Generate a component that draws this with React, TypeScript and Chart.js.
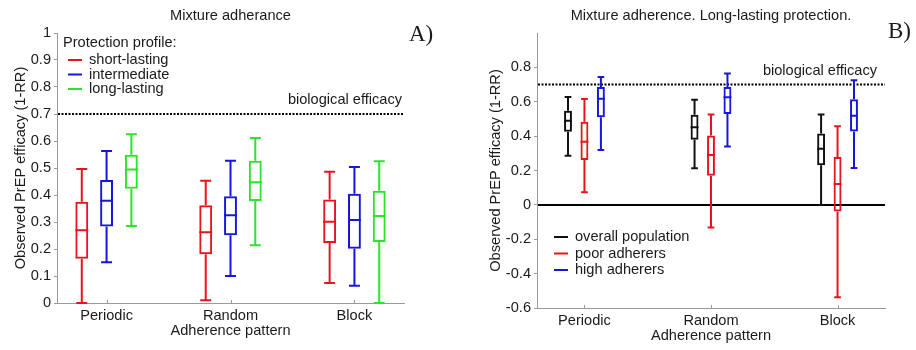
import React, { useEffect, useRef } from "react";
import { Chart, registerables } from "chart.js";

Chart.register(...registerables);

// ---------- data ----------
const categories = ["Periodic", "Random", "Block"];

// Panel A: mixture adherence, by protection profile
// stats per category: [lower whisker, q1, median, q3, upper whisker]
const aLabels = ["short-lasting", "intermediate", "long-lasting"];
const aColors = ["#e8141c", "#1616dc", "#2be42b"];
const aShortLasting = [
  [0.0, 0.164, 0.269, 0.375, 0.496],
  [0.01, 0.181, 0.262, 0.362, 0.453],
  [0.074, 0.222, 0.301, 0.383, 0.486],
];
const aIntermediate = [
  [0.151, 0.283, 0.379, 0.456, 0.563],
  [0.1, 0.251, 0.325, 0.395, 0.527],
  [0.064, 0.201, 0.307, 0.405, 0.504],
];
const aLongLasting = [
  [0.285, 0.423, 0.494, 0.549, 0.625],
  [0.214, 0.378, 0.447, 0.527, 0.611],
  [0.0, 0.226, 0.322, 0.416, 0.525],
];

// Panel B: mixture adherence, long-lasting protection, by adherer group
const bLabels = ["overall population", "poor adherers", "high adherers"];
const bColors = ["#111111", "#e8141c", "#1616dc"];
const bOverall = [
  [0.286, 0.425, 0.489, 0.547, 0.628],
  [0.213, 0.379, 0.452, 0.524, 0.611],
  [0.0, 0.23, 0.327, 0.415, 0.526],
];
const bPoor = [
  [0.073, 0.261, 0.367, 0.483, 0.616],
  [-0.131, 0.17, 0.29, 0.404, 0.526],
  [-0.537, -0.039, 0.122, 0.278, 0.458],
];
const bHigh = [
  [0.319, 0.51, 0.618, 0.686, 0.744],
  [0.34, 0.529, 0.626, 0.686, 0.765],
  [0.215, 0.427, 0.518, 0.615, 0.725],
];

const biologicalEfficacy = 0.7;
const aYTicks = [0, 0.1, 0.2, 0.3, 0.4, 0.5, 0.6, 0.7, 0.8, 0.9, 1];
const bYTicks = [-0.6, -0.4, -0.2, 0, 0.2, 0.4, 0.6, 0.8];

// ---------- helpers ----------
const SANS = '"Liberation Sans", Arial, Helvetica, sans-serif';
const SERIF = '"Liberation Serif", "Times New Roman", serif';
const TEXT = "#1a1a1a";
const AXIS = "#9a9a9a";
const FS = 14.6;

const fmt = (v: number) => {
  const r = Math.round(v * 10) / 10;
  return r === 0 ? "0" : String(r);
};

const boxPlugin = {
  id: "boxWhiskers",
  afterDatasetsDraw(chart: any) {
    const { ctx } = chart;
    const y = chart.scales.y;
    chart.data.datasets.forEach((ds: any, i: number) => {
      const meta = chart.getDatasetMeta(i);
      meta.data.forEach((bar: any, j: number) => {
        const s = ds.stats[j];
        const x = bar.x;
        const w = bar.width;
        const cap = w * 0.85;
        const half = w / 2;
        ctx.save();
        ctx.strokeStyle = ds.borderColor;
        ctx.lineWidth = 2;
        ctx.beginPath();
        ctx.moveTo(x, y.getPixelForValue(s[3]));
        ctx.lineTo(x, y.getPixelForValue(s[4]));
        ctx.moveTo(x - cap / 2, y.getPixelForValue(s[4]));
        ctx.lineTo(x + cap / 2, y.getPixelForValue(s[4]));
        ctx.moveTo(x, y.getPixelForValue(s[1]));
        ctx.lineTo(x, y.getPixelForValue(s[0]));
        ctx.moveTo(x - cap / 2, y.getPixelForValue(s[0]));
        ctx.lineTo(x + cap / 2, y.getPixelForValue(s[0]));
        ctx.moveTo(x - half, y.getPixelForValue(s[2]));
        ctx.lineTo(x + half, y.getPixelForValue(s[2]));
        ctx.stroke();
        ctx.restore();
      });
    });
  },
};

const refLinesPlugin = {
  id: "refLines",
  beforeDatasetsDraw(chart: any) {
    const { ctx, chartArea } = chart;
    const y = chart.scales.y;
    const x = chart.scales.x;
    const o = chart.options.plugins.refLines;
    ctx.save();
    // small inward tick marks on the category axis
    ctx.strokeStyle = AXIS;
    ctx.lineWidth = 1;
    ctx.beginPath();
    categories.forEach((_, i) => {
      const px = Math.round(x.getPixelForValue(i + 1)) + 0.5;
      ctx.moveTo(px, chartArea.bottom);
      ctx.lineTo(px, chartArea.bottom - 3);
    });
    ctx.stroke();
    // dotted biological efficacy line
    const yb = y.getPixelForValue(o.efficacy);
    ctx.strokeStyle = "#000";
    ctx.lineWidth = 2;
    ctx.setLineDash([2, 1.5]);
    ctx.beginPath();
    ctx.moveTo(chartArea.left + 1, yb);
    ctx.lineTo(chartArea.right, yb);
    ctx.stroke();
    ctx.setLineDash([]);
    if (o.zeroLine) {
      const y0 = y.getPixelForValue(0);
      ctx.beginPath();
      ctx.moveTo(chartArea.left + 1, y0);
      ctx.lineTo(chartArea.right, y0);
      ctx.stroke();
    }
    ctx.fillStyle = TEXT;
    ctx.font = `${FS}px ${SANS}`;
    ctx.textAlign = "right";
    ctx.textBaseline = "middle";
    ctx.fillText("biological efficacy", chartArea.right - o.labelInset, yb - 14);
    ctx.restore();
  },
};

const decorPlugin = {
  id: "decor",
  afterDraw(chart: any) {
    const { ctx, chartArea } = chart;
    const o = chart.options.plugins.decor;
    ctx.save();
    ctx.fillStyle = TEXT;
    ctx.font = `${FS}px ${SANS}`;
    ctx.textAlign = "center";
    ctx.textBaseline = "middle";
    ctx.fillText(o.title, (chartArea.left + chartArea.right) / 2, 16);
    ctx.font = `23px ${SERIF}`;
    ctx.textAlign = "left";
    ctx.textBaseline = "alphabetic";
    ctx.fillText(o.panel, o.panelX, o.panelY);
    // legend
    ctx.font = `${FS}px ${SANS}`;
    ctx.textBaseline = "middle";
    if (o.legendTitle) ctx.fillText(o.legendTitle, o.legX - 5, o.legY0 - 17);
    chart.data.datasets.forEach((ds: any, i: number) => {
      const yy = o.legY0 + i * o.legStep;
      ctx.strokeStyle = ds.borderColor;
      ctx.lineWidth = 2;
      ctx.beginPath();
      ctx.moveTo(o.legX, yy);
      ctx.lineTo(o.legX + 14, yy);
      ctx.stroke();
      ctx.fillStyle = TEXT;
      ctx.fillText(ds.label, o.legX + 21, yy);
    });
    ctx.restore();
  },
};

function makeDatasets(labels: string[], colors: string[], series: number[][][]) {
  return series.map((stats, k) => ({
    label: labels[k],
    stats,
    data: categories.map((_, i) => ({ x: i + 1, y: [stats[i][1], stats[i][3]] })),
    borderColor: colors[k],
    backgroundColor: "rgba(0,0,0,0)",
    borderWidth: 2,
    borderSkipped: false,
  }));
}

function makeConfig(p: any) {
  return {
    type: "bar",
    data: { datasets: makeDatasets(p.labels, p.colors, p.series) },
    plugins: [refLinesPlugin, boxPlugin, decorPlugin],
    options: {
      responsive: false,
      animation: false,
      devicePixelRatio: 1,
      layout: { padding: { top: 33, right: p.rightPad, left: 0, bottom: 0 } },
      datasets: {
        bar: { categoryPercentage: p.catPct, barPercentage: p.barPct, grouped: true },
      },
      plugins: {
        legend: { display: false },
        tooltip: { enabled: false },
        refLines: { efficacy: biologicalEfficacy, zeroLine: p.zeroLine, labelInset: p.labelInset },
        decor: p.decor,
      },
      scales: {
        x: {
          type: "linear",
          offset: false,
          min: p.xMin,
          max: p.xMax,
          afterBuildTicks: (s: any) => {
            s.ticks = categories.map((_, i) => ({ value: i + 1 }));
          },
          afterFit: (s: any) => {
            s.height = p.xHeight;
          },
          grid: { display: false, drawTicks: false, offset: false },
          border: { display: true, color: AXIS, width: 1 },
          ticks: {
            padding: 4,
            color: TEXT,
            font: { family: SANS, size: FS },
            maxRotation: 0,
            autoSkip: false,
            callback: (v: number) => categories[Math.round(v) - 1],
          },
          title: {
            display: true,
            text: "Adherence pattern",
            color: TEXT,
            font: { family: SANS, size: FS },
            padding: { top: 0, bottom: p.xTitlePad },
          },
        },
        y: {
          type: "linear",
          min: p.yMin,
          max: p.yMax,
          afterBuildTicks: (s: any) => {
            s.ticks = p.yTicks.map((v: number) => ({ value: v }));
          },
          afterFit: (s: any) => {
            s.width = p.yWidth;
          },
          grid: { display: true, drawOnChartArea: false, drawTicks: true, tickLength: 3, color: AXIS },
          border: { display: true, color: AXIS, width: 1 },
          ticks: {
            padding: 3,
            color: TEXT,
            font: { family: SANS, size: FS },
            autoSkip: false,
            callback: (v: number) => fmt(v),
          },
          title: {
            display: true,
            text: "Observed PrEP efficacy (1-RR)",
            color: TEXT,
            font: { family: SANS, size: FS },
            padding: { top: p.yTitlePad, bottom: 0 },
          },
        },
      },
    },
  };
}

const panelA = {
  labels: aLabels,
  colors: aColors,
  series: [aShortLasting, aIntermediate, aLongLasting],
  rightPad: 54,
  catPct: 0.6,
  barPct: 0.52,
  zeroLine: false,
  labelInset: 2,
  xMin: 0.6,
  xMax: 3.4,
  xHeight: 47,
  xTitlePad: 10,
  yMin: 0,
  yMax: 1,
  yTicks: aYTicks,
  yWidth: 57,
  yTitlePad: 12,
  decor: {
    title: "Mixture adherance",
    panel: "A)",
    panelX: 409,
    panelY: 41,
    legendTitle: "Protection profile:",
    legX: 68,
    legY0: 60,
    legStep: 14.5,
  },
};

const panelB = {
  labels: bLabels,
  colors: bColors,
  series: [bOverall, bPoor, bHigh],
  rightPad: 31,
  catPct: 0.39,
  barPct: 0.48,
  zeroLine: true,
  labelInset: 8,
  xMin: 0.625,
  xMax: 3.375,
  xHeight: 42,
  xTitlePad: 5,
  yMin: -0.6,
  yMax: 1,
  yTicks: bYTicks,
  yWidth: 79,
  yTitlePad: 29,
  decor: {
    title: "Mixture adherence. Long-lasting protection.",
    panel: "B)",
    panelX: 430,
    panelY: 38,
    legendTitle: "",
    legX: 96,
    legY0: 237,
    legStep: 16.5,
  },
};

function Panel({ cfg, left }: { cfg: any; left: number }) {
  const ref = useRef<HTMLCanvasElement>(null);
  useEffect(() => {
    if (!ref.current) return;
    const chart = new Chart(ref.current, makeConfig(cfg) as any);
    return () => chart.destroy();
  }, [cfg]);
  return (
    <canvas
      ref={ref}
      width={458}
      height={350}
      style={{ position: "absolute", left, top: 0, width: 458, height: 350, display: "block" }}
    />
  );
}

export default function App() {
  return (
    <div
      style={{
        position: "absolute",
        left: 0,
        top: 0,
        width: 916,
        height: 350,
        background: "#fff",
        overflow: "hidden",
      }}
    >
      <Panel cfg={panelA} left={0} />
      <Panel cfg={panelB} left={458} />
    </div>
  );
}
